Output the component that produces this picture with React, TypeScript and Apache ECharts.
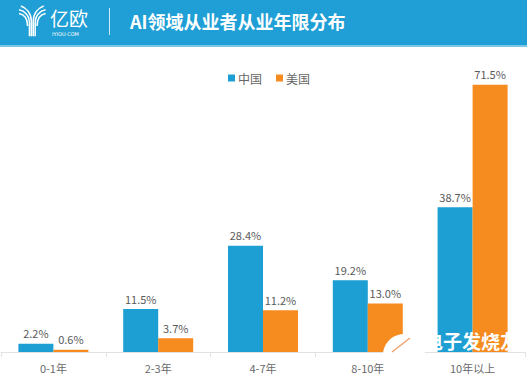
import React, { useEffect, useRef } from "react";
import * as echarts from "echarts";

const categories = ["0-1年", "2-3年", "4-7年", "8-10年", "10年以上"];
const chinaValues = [2.2, 11.5, 28.4, 19.2, 38.7];
const usValues = [0.6, 3.7, 11.2, 13.0, 71.5];
const seriesNames = ["中国", "美国"];
const titleText = "AI领域从业者从业年限分布";

const iconPath =
  "M11 33 V19 C11 11 6 6 0 5 M13 33 V17 C13 9 8 3 2 1 M15 33 V17 C15 9 20 3 26 1 M17 33 V19 C17 11 22 6 28 5 M9 22 C9 14 5 10 0 9 M19 22 C19 14 23 10 28 9";

echarts.graphic.registerShape("yiouIcon", echarts.graphic.extendPath(iconPath, {}));

export default function App() {
  const ref = useRef<HTMLDivElement>(null);
  useEffect(() => {
    if (!ref.current) return;
    const chart = echarts.init(ref.current, null, { renderer: "svg" });
    chart.setOption({
      animation: false,
      backgroundColor: "#ffffff",
      textStyle: { fontFamily: "Noto Sans CJK SC, Noto Sans, sans-serif" },
      legend: {
        data: seriesNames,
        top: 67,
        left: 223,
        itemWidth: 7,
        itemHeight: 7,
        itemGap: 14,
        icon: "rect",
        textStyle: { color: "#666", fontSize: 12, padding: [0, 0, 0, -2] },
      },
      grid: { left: 1, right: 2, top: 53, bottom: 26 },
      xAxis: {
        type: "category",
        data: categories,
        axisLine: { lineStyle: { color: "#e2e2e2" } },
        axisTick: { show: true, alignWithLabel: false, length: 5, lineStyle: { color: "#e2e2e2" } },
        axisLabel: { color: "#6a6a6a", fontSize: 11, margin: 10 },
      },
      yAxis: {
        type: "value",
        min: 0,
        max: 80,
        show: false,
        splitLine: { show: false },
      },
      series: [
        {
          name: seriesNames[0],
          type: "bar",
          data: chinaValues,
          barWidth: 35,
          barGap: "0%",
          itemStyle: { color: "#1d9fd3" },
          label: { show: true, position: "top", distance: 5, color: "#5a5a5a", fontSize: 11, formatter: "{c}%" },
        },
        {
          name: seriesNames[1],
          type: "bar",
          data: usValues,
          barWidth: 35,
          barGap: "0%",
          itemStyle: { color: "#f68c1f" },
          label: {
            show: true,
            position: "top",
            distance: 5,
            color: "#5a5a5a",
            fontSize: 11,
            formatter: (p: any) => p.value.toFixed(1) + "%",
          },
        },
      ],
      graphic: [
        { type: "rect", left: 0, top: 0, shape: { width: 527, height: 45 }, style: { fill: "#1f9fd5" }, z: 10 },
        { type: "rect", left: 0, top: 45, shape: { width: 527, height: 2 }, style: { fill: "#7cc6e6" }, z: 10 },
        {
          type: "yiouIcon",
          x: 19,
          y: 5,
          scaleX: 0.95,
          scaleY: 0.95,
          style: { stroke: "#ffffff", fill: "none", lineWidth: 1.6 },
          z: 11,
        },
        {
          type: "text",
          x: 50,
          y: 8,
          style: { text: "亿欧", fill: "#ffffff", font: "19px 'Noto Sans CJK SC'" },
          z: 11,
        },
        {
          type: "text",
          x: 52,
          y: 31,
          style: { text: "IYIOU·COM", fill: "#ffffff", font: "5px 'DejaVu Sans'" },
          z: 11,
        },
        { type: "rect", left: 109, top: 8, shape: { width: 1, height: 27 }, style: { fill: "#cde9f6" }, z: 11 },
        {
          type: "text",
          x: 130,
          y: 12,
          style: { text: titleText, fill: "#ffffff", font: "bold 18px 'Noto Sans CJK SC'" },
          z: 11,
        },
        {
          type: "circle",
          shape: { cx: 404, cy: 355, r: 21 },
          style: { fill: "#ffffff" },
          z: 12,
        },
        {
          type: "line",
          shape: { x1: 392, y1: 352, x2: 410, y2: 338 },
          style: { stroke: "#f0a070", lineWidth: 1.5 },
          z: 13,
        },
        {
          type: "text",
          x: 424,
          y: 331,
          style: { text: "电子发烧友", fill: "#ffffff", font: "bold 19px 'Noto Sans CJK SC'" },
          z: 12,
        },
      ],
    });
    return () => chart.dispose();
  }, []);
  return <div ref={ref} style={{ width: 527, height: 378, position: "absolute", left: 0, top: 0 }} />;
}
